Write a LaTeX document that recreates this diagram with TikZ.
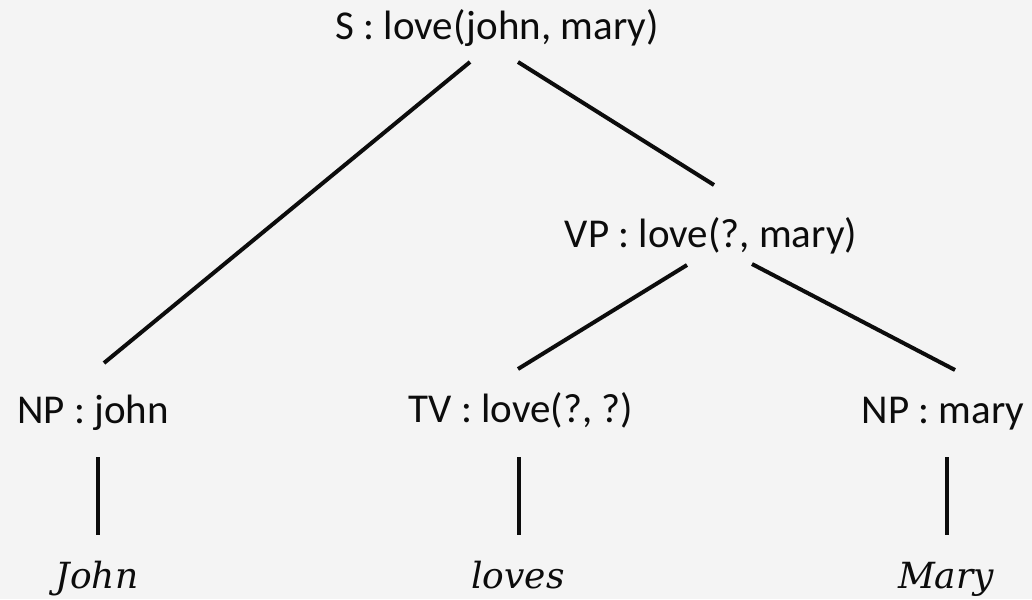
\documentclass[tikz,border=0pt]{standalone}
\usepackage{fontspec}
\setmainfont{Carlito}
\newfontfamily\wordfont{DejaVu Serif}
\usetikzlibrary{calc}
\definecolor{bgcol}{RGB}{244,244,244}
\definecolor{inkcol}{RGB}{12,12,12}
\tikzset{
  cat/.style={inner sep=0pt, anchor=base, text=inkcol, font=\fontsize{41}{49}\selectfont},
  word/.style={inner sep=0pt, anchor=base, text=inkcol, font=\wordfont\itshape\fontsize{36}{43}\selectfont},
  branch/.style={draw=inkcol, line width=4pt}
}
\begin{document}
\begin{tikzpicture}[x=1pt,y=-1pt]
                      \fill[bgcol] (0,0) rectangle (1032,599);
                      \useasboundingbox (0,0) rectangle (1032,599);
                      % categories
                      \node[cat] (s) at (497,40) {S : love(john, mary)};
                      \node[cat] (vp) at (711,247) {VP : love(?, mary)};
                      \node[cat] (npj) at (93,423) {NP : john};
                      \node[cat] (tv) at (521,422) {TV : love(?, ?)};
                      \node[cat] (npm) at (943,423) {NP : mary};
                      % words
                      \node[word] (john) at (97,588) {John};
                      \node[word] (loves) at (518,588) {loves};
                      \node[word] (mary) at (946,588) {Mary};
                      % branches
                      \draw[branch] ($(s.base)+(-27,22)$) -- ($(npj.base)+(11,-60)$);
                      \draw[branch] ($(s.base)+(21,22)$) -- ($(vp.base)+(3,-62)$);
                      \draw[branch] ($(vp.base)+(-24,18)$) -- ($(tv.base)+(-3,-53)$);
                      \draw[branch] ($(vp.base)+(41,17)$) -- ($(npm.base)+(12,-53)$);
                      \draw[branch] ($(npj.base)+(5,34)$) -- ($(john.base)+(1,-53)$);
                      \draw[branch] ($(tv.base)+(-2,35)$) -- ($(loves.base)+(1,-53)$);
                      \draw[branch] ($(npm.base)+(4,34)$) -- ($(mary.base)+(1,-53)$);
                  \end{tikzpicture}
\end{document}
